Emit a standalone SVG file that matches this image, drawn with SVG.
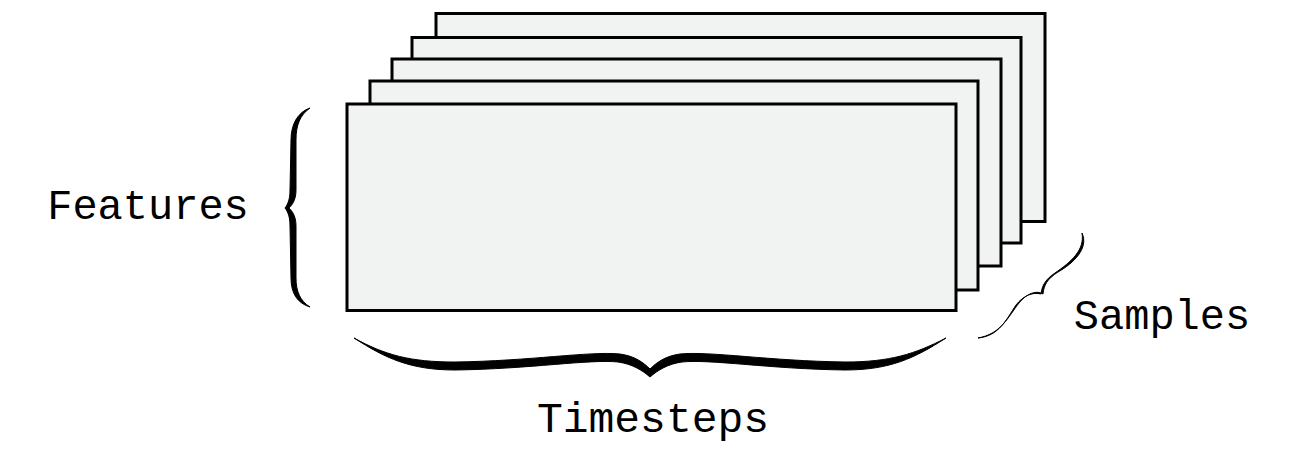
<svg xmlns="http://www.w3.org/2000/svg" width="1292" height="453" viewBox="0 0 1292 453">
<style>
.sheet{fill:#f1f2f2;stroke:#000;stroke-width:3}
.brace{fill:#000;stroke:#000;stroke-width:1;stroke-linejoin:round}
.lbl{font-family:"Liberation Mono","DejaVu Sans Mono",monospace;font-size:42px;fill:#000;text-anchor:middle}
</style>
<rect width="1292" height="453" fill="#fff"/>
<g id="sample5"><rect class="sheet" x="436" y="13.5" width="609" height="208"/></g>
<g id="sample4"><rect class="sheet" x="412" y="37.5" width="609" height="205.5"/></g>
<g id="sample3"><rect class="sheet" x="392" y="59" width="609" height="207"/></g>
<g id="sample2"><rect class="sheet" x="370" y="81" width="608" height="209"/></g>
<g id="sample1"><rect class="sheet" x="347" y="104" width="609" height="206.5"/></g>
<g id="braces">
<path id="brace-features" class="brace" d="M310,108 C298,112 291,124 291,140 L290,190 C290,199 288,204 285,208 C288,212 290,217 290,226 L291,278 C291,293 297,303 310,307 C300,301 296,291 296,278 L296,226 C296,217 293,212 289,208 C293,204 296,199 296,190 L296,140 C296,125 300,115 310,108 Z"/>
<path id="brace-timesteps" class="brace" d="M354,338 C385,358 410,370 455,370 C530,369 590,359 618,362 C632,364 642,370 650,377 C658,370 668,364 682,362 C710,359 770,369 845,370 C890,370 915,358 946,338 C915,354 890,362 845,362 C770,361 710,351 680,354 C665,356 656,363 650,369 C644,363 635,356 620,354 C590,351 530,361 455,362 C410,362 385,355 354,338 Z"/>
<path id="brace-samples" class="brace" d="M1082,233 C1089,248 1074,263 1058,272 C1047,279 1044,285 1043,294 C1037,290 1027,293 1019,303 C1008,317 1001,334 978,338 C999,336 1006,320 1016,305 C1024,295 1033,292 1041,294 C1042,285 1046,279 1055,273 C1071,262 1085,250 1082,233 Z"/>
</g>
<g id="labels">
<text id="label-features" class="lbl" x="148" y="219">Features</text>
<text id="label-timesteps" class="lbl" x="653" y="432" style="font-size:43px">Timesteps</text>
<text id="label-samples" class="lbl" x="1162" y="329">Samples</text>
</g>
</svg>
